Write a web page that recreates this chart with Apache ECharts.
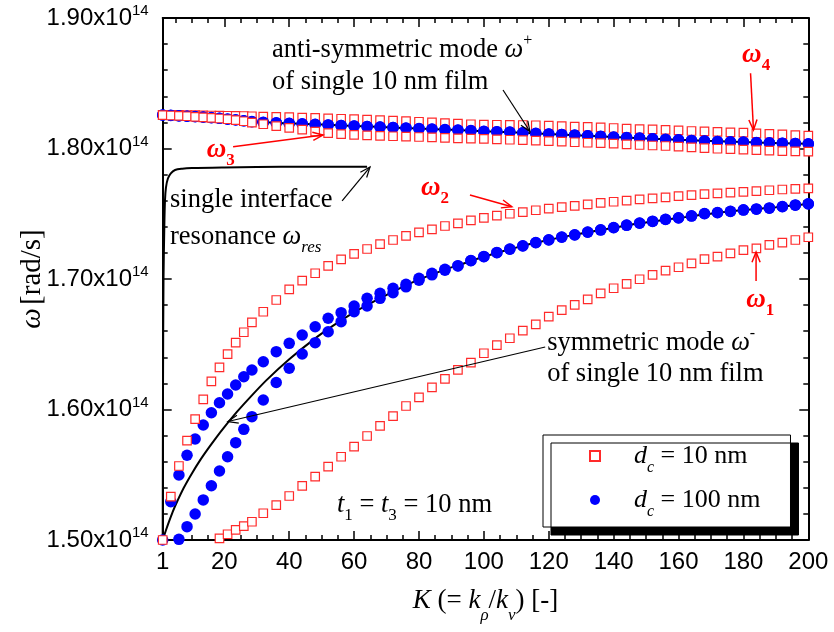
<!DOCTYPE html>
<html>
<head>
<meta charset="utf-8">
<script src="https://cdn.jsdelivr.net/npm/echarts@6/dist/echarts.min.js"></script>
<style>
  html, body { margin: 0; padding: 0; background: #fff; }
  #chart { width: 834px; height: 632px; }
</style>
</head>
<body>
<div id="chart"></div>
<script>
// Sampling of K = k_rho / k_v used for the three-layer dispersion results
const kGrid = [1, 3.5, 6, 8.5, 11, 13.5, 16, 18.5, 21, 23.5, 26, 28.5,
  32, 36, 40, 44, 48, 52, 56, 60, 64, 68, 72, 76, 80, 84, 88, 92, 96, 100,
  104, 108, 112, 116, 120, 124, 128, 132, 136, 140, 144, 148, 152, 156, 160,
  164, 168, 172, 176, 180, 184, 188, 192, 196, 200];

// d_c = 10 nm : four coupled branches (units of 1e14 rad/s, null = below range)
const dc10_w1 = [null, null, null, null, null, null, null, 1.5013, 1.5044, 1.5077, 1.5107, 1.5140,
  1.5205, 1.5268, 1.5337, 1.5414, 1.5485, 1.5562, 1.5638, 1.5715, 1.5797, 1.5874, 1.5950, 1.6027, 1.6093, 1.6170, 1.6234, 1.6303, 1.6359, 1.6431,
  1.6494, 1.6546, 1.6604, 1.6653, 1.6711, 1.6762, 1.6801, 1.6844, 1.6890, 1.6929, 1.6962, 1.6998, 1.7031, 1.7064, 1.7090,
  1.7120, 1.7153, 1.7171, 1.7197, 1.7222, 1.7235, 1.7261, 1.7278, 1.7299, 1.7320];
const dc10_w2 = [1.5000, 1.5332, 1.5567, 1.5761, 1.5927, 1.6078, 1.6215, 1.6323, 1.6425, 1.6512, 1.6592, 1.6668,
  1.6749, 1.6839, 1.6921, 1.6987, 1.7044, 1.7100, 1.7151, 1.7192, 1.7230, 1.7268, 1.7299, 1.7330, 1.7358, 1.7381, 1.7406, 1.7427, 1.7450, 1.7468,
  1.7485, 1.7500, 1.7513, 1.7527, 1.7539, 1.7551, 1.7561, 1.7572, 1.7583, 1.7592, 1.7601, 1.7610, 1.7618, 1.7626, 1.7635,
  1.7643, 1.7650, 1.7656, 1.7662, 1.7668, 1.7674, 1.7680, 1.7686, 1.7690, 1.7695];
const dc10_w3 = [1.8255, 1.8253, 1.8250, 1.8247, 1.8243, 1.8239, 1.8235, 1.8230, 1.8224, 1.8217, 1.8209, 1.8199,
  1.8186, 1.8172, 1.8158, 1.8144, 1.8130, 1.8118, 1.8110, 1.8104, 1.8100, 1.8097, 1.8094, 1.8091, 1.8088, 1.8085, 1.8082, 1.8078, 1.8076, 1.8073,
  1.8070, 1.8067, 1.8064, 1.8060, 1.8056, 1.8052, 1.8048, 1.8044, 1.8041, 1.8037, 1.8032, 1.8027, 1.8023, 1.8019, 1.8014,
  1.8009, 1.8003, 1.7998, 1.7995, 1.7991, 1.7987, 1.7983, 1.7980, 1.7978, 1.7976];
const dc10_w4 = [1.8258, 1.8258, 1.8257, 1.8256, 1.8255, 1.8254, 1.8253, 1.8252, 1.8251, 1.8250, 1.8249, 1.8247,
  1.8245, 1.8243, 1.8240, 1.8237, 1.8234, 1.8231, 1.8228, 1.8225, 1.8222, 1.8218, 1.8214, 1.8210, 1.8205, 1.8200, 1.8195, 1.8190, 1.8186, 1.8183,
  1.8182, 1.8181, 1.8180, 1.8178, 1.8175, 1.8172, 1.8168, 1.8165, 1.8162, 1.8157, 1.8153, 1.8149, 1.8146, 1.8142, 1.8139,
  1.8134, 1.8131, 1.8128, 1.8124, 1.8121, 1.8116, 1.8112, 1.8108, 1.8103, 1.8098];

// d_c = 100 nm : weakly coupled branches
const dc100_w1 = [null, null, 1.5005, 1.5102, 1.5199, 1.5307, 1.5416, 1.5529, 1.5638, 1.5746, 1.5848, 1.5945,
  1.6073, 1.6207, 1.6316, 1.6425, 1.6512, 1.6596, 1.6673, 1.6749, 1.6793, 1.6852, 1.6895, 1.6940, 1.6990, 1.7032, 1.7068, 1.7100, 1.7140, 1.7171,
  1.7202, 1.7228, 1.7253, 1.7278, 1.7299, 1.7320, 1.7337, 1.7358, 1.7375, 1.7393, 1.7411, 1.7427, 1.7441, 1.7456, 1.7467,
  1.7482, 1.7500, 1.7508, 1.7517, 1.7528, 1.7535, 1.7543, 1.7554, 1.7566, 1.7575];
const dc100_w2 = [1.5000, 1.5293, 1.5498, 1.5649, 1.5774, 1.5881, 1.5975, 1.6052, 1.6119, 1.6188, 1.6251, 1.6303,
  1.6366, 1.6443, 1.6507, 1.6571, 1.6634, 1.6699, 1.6742, 1.6793, 1.6852, 1.6890, 1.6929, 1.6959, 1.7005, 1.7044, 1.7074, 1.7102, 1.7142, 1.7173,
  1.7204, 1.7230, 1.7255, 1.7280, 1.7301, 1.7322, 1.7339, 1.7360, 1.7377, 1.7395, 1.7413, 1.7429, 1.7443, 1.7458, 1.7469,
  1.7484, 1.7502, 1.7510, 1.7519, 1.7530, 1.7537, 1.7545, 1.7556, 1.7568, 1.7577];
const dc100_w3 = [1.8256, 1.8253, 1.8250, 1.8247, 1.8244, 1.8240, 1.8236, 1.8231, 1.8225, 1.8219, 1.8212, 1.8205,
  1.8200, 1.8196, 1.8192, 1.8188, 1.8184, 1.8180, 1.8176, 1.8172, 1.8168, 1.8164, 1.8160, 1.8156, 1.8152, 1.8148, 1.8144, 1.8140, 1.8136, 1.8131,
  1.8128, 1.8125, 1.8120, 1.8115, 1.8111, 1.8107, 1.8102, 1.8097, 1.8092, 1.8087, 1.8083, 1.8079, 1.8074, 1.8069, 1.8066,
  1.8061, 1.8057, 1.8053, 1.8050, 1.8048, 1.8045, 1.8043, 1.8040, 1.8038, 1.8035];
const dc100_w4 = [1.8257, 1.8254, 1.8251, 1.8248, 1.8245, 1.8241, 1.8237, 1.8232, 1.8226, 1.8220, 1.8213, 1.8206,
  1.8201, 1.8197, 1.8193, 1.8189, 1.8185, 1.8181, 1.8177, 1.8173, 1.8169, 1.8165, 1.8161, 1.8157, 1.8153, 1.8149, 1.8145, 1.8141, 1.8137, 1.8132,
  1.8129, 1.8126, 1.8121, 1.8116, 1.8112, 1.8108, 1.8103, 1.8098, 1.8093, 1.8088, 1.8084, 1.8080, 1.8075, 1.8070, 1.8067,
  1.8062, 1.8058, 1.8054, 1.8051, 1.8049, 1.8046, 1.8044, 1.8041, 1.8039, 1.8036];

// Single 10 nm film: symmetric mode (omega-) and anti-symmetric mode (omega+)
const symK = [1, 2, 3, 4, 5, 7.5, 10, 12.5, 15, 17.5, 20, 24, 28, 33, 40, 48, 54, 60, 69, 79, 88,
  92, 100, 108, 116, 128, 140, 148, 160, 168, 180, 190, 200];
const symW = [1.5000, 1.5075, 1.5145, 1.5210, 1.5270, 1.5400, 1.5510, 1.5610, 1.5700, 1.5785, 1.5865, 1.5985, 1.6095,
  1.6225, 1.6385, 1.6545, 1.6650, 1.6745, 1.6865, 1.6985, 1.7072, 1.7104, 1.7170, 1.7228, 1.7278, 1.7340, 1.7393,
  1.7427, 1.7467, 1.7495, 1.7528, 1.7550, 1.7575];
const antiK = [1, 10, 20, 28.5, 40, 50, 60, 70, 80, 90, 100, 120, 140, 160, 180, 200];
const antiW = [1.8257, 1.8245, 1.8228, 1.8206, 1.8193, 1.8183, 1.8173, 1.8163, 1.8153, 1.8143, 1.8132, 1.8112, 1.8088,
  1.8067, 1.8049, 1.8036];
// Single interface resonance
const resK = [1, 1.1, 1.25, 1.5, 1.7, 2, 2.6, 3.5, 4.8, 7, 10, 20, 30, 45, 64];
const resW = [1.5000, 1.6200, 1.7000, 1.7400, 1.7600, 1.7700, 1.7770, 1.7810, 1.7835, 1.7845, 1.7850, 1.7855,
  1.7858, 1.7860, 1.7860];

// Axis ticks
const xTickLabels = [1, 20, 40, 60, 80, 100, 120, 140, 160, 180, 200];
const xMinorTicks = [5, 10, 15, 25, 30, 35, 45, 50, 55, 65, 70, 75, 85, 90, 95, 105, 110, 115, 125, 130, 135,
  145, 150, 155, 165, 170, 175, 185, 190, 195];

const SERIF = '"Liberation Serif", "Times New Roman", serif';
const SANS = '"Liberation Sans", Arial, sans-serif';

function branchPoints(vals) {
  const out = [];
  vals.forEach((v, i) => { if (v !== null) out.push([kGrid[i], v]); });
  return out;
}
function curve(ks, ws) { return ks.map((k, i) => [k, ws[i]]); }

const chart = echarts.init(document.getElementById('chart'), null, { renderer: 'canvas' });

const frame = { show: true, onZero: false, lineStyle: { color: '#000', width: 2 } };
const tickStyle = { color: '#000', width: 1.5 };

const yLabelRich = {
  a: { fontFamily: SANS, fontSize: 24, lineHeight: 28, color: '#000' },
  s: { fontFamily: SANS, fontSize: 15, lineHeight: 15, padding: [0, 0, 14, 0], color: '#000' }
};

const squareStyle = { color: '#ffffff', borderColor: '#ff2a2a', borderWidth: 1.2, opacity: 1 };

const option = {
  animation: false,
  backgroundColor: '#fff',
  grid: { left: 162.7, right: 25.7, top: 18, bottom: 92, outerBoundsMode: 'none' },
  xAxis: [
    {
      type: 'value', position: 'bottom', min: 1, max: 200,
      axisLine: frame,
      axisTick: { show: true, inside: true, length: 9, customValues: xTickLabels, lineStyle: tickStyle },
      axisLabel: { customValues: xTickLabels, fontFamily: SANS, fontSize: 24, color: '#000', margin: 10 },
      splitLine: { show: false },
      name: '{i|K}{n| (= }{i|k}{sub|ρ}{n|/}{i|k}{sub|ν}{n|) [-]}',
      nameLocation: 'middle', nameGap: 44,
      nameTextStyle: {
        rich: {
          i: { fontFamily: SERIF, fontStyle: 'italic', fontSize: 27, lineHeight: 30, color: '#000' },
          n: { fontFamily: SERIF, fontSize: 27, lineHeight: 30, color: '#000' },
          sub: { fontFamily: SERIF, fontStyle: 'italic', fontSize: 17, lineHeight: 17, padding: [28, 0, 0, 0], color: '#000' }
        }
      }
    },
    {
      type: 'value', position: 'bottom', min: 1, max: 200,
      axisLine: { show: false },
      axisTick: { show: true, inside: true, length: 5, customValues: xMinorTicks, lineStyle: tickStyle },
      axisLabel: { show: false }, splitLine: { show: false }
    },
    {
      type: 'value', position: 'top', min: 1, max: 200,
      axisLine: frame,
      axisTick: { show: true, inside: true, length: 9, customValues: xTickLabels, lineStyle: tickStyle },
      axisLabel: { show: false }, splitLine: { show: false }
    },
    {
      type: 'value', position: 'top', min: 1, max: 200,
      axisLine: { show: false },
      axisTick: { show: true, inside: true, length: 5, customValues: xMinorTicks, lineStyle: tickStyle },
      axisLabel: { show: false }, splitLine: { show: false }
    }
  ],
  yAxis: [
    {
      type: 'value', position: 'left', min: 1.5, max: 1.9, interval: 0.1,
      axisLine: frame,
      axisTick: { show: true, inside: true, length: 9, lineStyle: tickStyle },
      minorTick: { show: true, splitNumber: 5, length: 5, lineStyle: tickStyle },
      axisLabel: {
        margin: 14,
        formatter: v => '{a|' + v.toFixed(2) + 'x10}{s|14}',
        rich: yLabelRich
      },
      splitLine: { show: false },
      name: '{w|ω} {n|[rad/s]}',
      nameLocation: 'middle', nameGap: 116, nameRotate: 90, nameMoveOverlap: false,
      nameTextStyle: {
        rich: {
          w: { fontFamily: SERIF, fontStyle: 'italic', fontSize: 29, color: '#000' },
          n: { fontFamily: SERIF, fontSize: 29, color: '#000' }
        }
      }
    },
    {
      type: 'value', position: 'right', min: 1.5, max: 1.9, interval: 0.1,
      axisLine: frame,
      axisTick: { show: true, inside: true, length: 9, lineStyle: tickStyle },
      minorTick: { show: true, splitNumber: 5, length: 5, lineStyle: tickStyle },
      axisLabel: { show: false }, splitLine: { show: false }
    }
  ],
  legend: {
    orient: 'vertical', left: 543, top: 435,
    data: ['dc10', 'dc100'],
    itemWidth: 10, itemHeight: 10, itemGap: 4,
    padding: [1, 30, 7, 46],
    backgroundColor: '#fff', borderColor: '#000', borderWidth: 1,
    shadowColor: '#000', shadowBlur: 0, shadowOffsetX: 8, shadowOffsetY: 8,
    selectedMode: false,
    formatter: name => name === 'dc10' ? '{d|d}{c|c}{t| = 10 nm}' : '{d|d}{c|c}{t| = 100 nm}',
    textStyle: {
      rich: {
        d: { fontFamily: SERIF, fontStyle: 'italic', fontSize: 26, lineHeight: 30, padding: [0, 0, 0, 29], color: '#000' },
        c: { fontFamily: SERIF, fontStyle: 'italic', fontSize: 16, lineHeight: 14, padding: [24, 0, 0, 0], color: '#000' },
        t: { fontFamily: SERIF, fontSize: 26, lineHeight: 30, color: '#000' }
      }
    }
  },
  series: [
    {
      name: 'sym', type: 'line', z: 2, showSymbol: false, smooth: 0.3,
      lineStyle: { color: '#000', width: 2 }, data: curve(symK, symW)
    },
    {
      name: 'anti', type: 'line', z: 2, showSymbol: false, smooth: 0.3,
      lineStyle: { color: '#000', width: 2 }, data: curve(antiK, antiW)
    },
    {
      name: 'res', type: 'line', z: 2, showSymbol: false, smooth: 0.3,
      lineStyle: { color: '#000', width: 2 }, data: curve(resK, resW)
    },
    {
      // upper branch omega_4, plotted beneath the d_c = 100 nm circles
      name: 'dc10', type: 'scatter', z: 3,
      symbol: 'rect', symbolSize: 8.5, itemStyle: squareStyle,
      data: branchPoints(dc10_w4)
    },
    {
      name: 'dc100', type: 'scatter', z: 4,
      symbol: 'circle', symbolSize: 11.5,
      itemStyle: { color: '#0000ff', opacity: 1 },
      data: [].concat(branchPoints(dc100_w1), branchPoints(dc100_w2), branchPoints(dc100_w3), branchPoints(dc100_w4))
    },
    {
      name: 'dc10', type: 'scatter', z: 5,
      symbol: 'rect', symbolSize: 8.5, itemStyle: squareStyle,
      data: [].concat(branchPoints(dc10_w1), branchPoints(dc10_w2), branchPoints(dc10_w3))
    }
  ]
};
chart.setOption(option);

// ---- annotations (anchored in data coordinates) ----
const serifRich = {
  n: { fontFamily: SERIF, fontSize: 26.5, lineHeight: 30, fill: '#000' },
  w: { fontFamily: SERIF, fontStyle: 'italic', fontSize: 26.5, lineHeight: 30, fill: '#000' },
  sup: { fontFamily: SERIF, fontSize: 16, lineHeight: 16, padding: [0, 0, 18, 0], fill: '#000' },
  sub: { fontFamily: SERIF, fontStyle: 'italic', fontSize: 17, lineHeight: 17, padding: [22, 0, 0, 0], fill: '#000' },
  subn: { fontFamily: SERIF, fontSize: 17, lineHeight: 17, padding: [22, 0, 0, 0], fill: '#000' },
  rw: { fontFamily: SERIF, fontStyle: 'italic', fontWeight: 'bold', fontSize: 27, lineHeight: 30, fill: '#ff0000' },
  rs: { fontFamily: SERIF, fontWeight: 'bold', fontSize: 17, lineHeight: 17, padding: [22, 0, 0, 0], fill: '#ff0000' }
};

const textNotes = [
  { at: [34.7, 1.8755], text: '{n|anti-symmetric mode }{w|ω}{sup|+}' },
  { at: [34.7, 1.8510], text: '{n|of single 10 nm film}' },
  { at: [3.25, 1.7605], text: '{n|single interface}' },
  { at: [3.25, 1.7322], text: '{n|resonance }{w|ω}{sub|res}' },
  { at: [119.5, 1.6510], text: '{n|symmetric mode }{w|ω}{sup|-}' },
  { at: [119.5, 1.6272], text: '{n|of single 10 nm film}' },
  { at: [54.7, 1.5268], text: '{w|t}{subn|1}{n| = }{w|t}{subn|3}{n| = 10 nm}' },
  { at: [180.9, 1.6839], text: '{rw|ω}{rs|1}' },
  { at: [80.6, 1.7697], text: '{rw|ω}{rs|2}' },
  { at: [14.6, 1.7989], text: '{rw|ω}{rs|3}' },
  { at: [179.6, 1.8716], text: '{rw|ω}{rs|4}' }
];
const arrowNotes = [
  { from: [105.9, 1.8448], to: [114.2, 1.8130], color: '#000', width: 1.2 },
  { from: [56.3, 1.7598], to: [64.9, 1.7858], color: '#000', width: 1.2 },
  { from: [118.9, 1.6479], to: [21.1, 1.5908], color: '#000', width: 1.2 },
  { from: [183.9, 1.6985], to: [183.9, 1.7207], color: '#ff0000', width: 1.5 },
  { from: [95.7, 1.7644], to: [108.6, 1.7554], color: '#ff0000', width: 1.5 },
  { from: [22.7, 1.8014], to: [50.4, 1.8103], color: '#ff0000', width: 1.5 },
  { from: [182.2, 1.8576], to: [183.1, 1.8142], color: '#ff0000', width: 1.5 }
];

function px(p) { return chart.convertToPixel({ seriesIndex: 0 }, p); }

const graphics = [];
textNotes.forEach(t => {
  const p = px(t.at);
  graphics.push({
    type: 'text', x: p[0], y: p[1], z: 10,
    style: { text: t.text, rich: serifRich, align: 'left', verticalAlign: 'middle' }
  });
});
arrowNotes.forEach(a => {
  const p0 = px(a.from), p1 = px(a.to);
  const ang = Math.atan2(p1[1] - p0[1], p1[0] - p0[0]);
  const len = 11, spread = 0.38;
  const h1 = [p1[0] - len * Math.cos(ang - spread), p1[1] - len * Math.sin(ang - spread)];
  const h2 = [p1[0] - len * Math.cos(ang + spread), p1[1] - len * Math.sin(ang + spread)];
  const ls = { stroke: a.color, lineWidth: a.width, fill: null };
  graphics.push({ type: 'polyline', z: 10, shape: { points: [p0, p1] }, style: ls });
  graphics.push({ type: 'polyline', z: 10, shape: { points: [h1, p1, h2] }, style: ls });
});
chart.setOption({ graphic: graphics });
</script>
</body>
</html>
